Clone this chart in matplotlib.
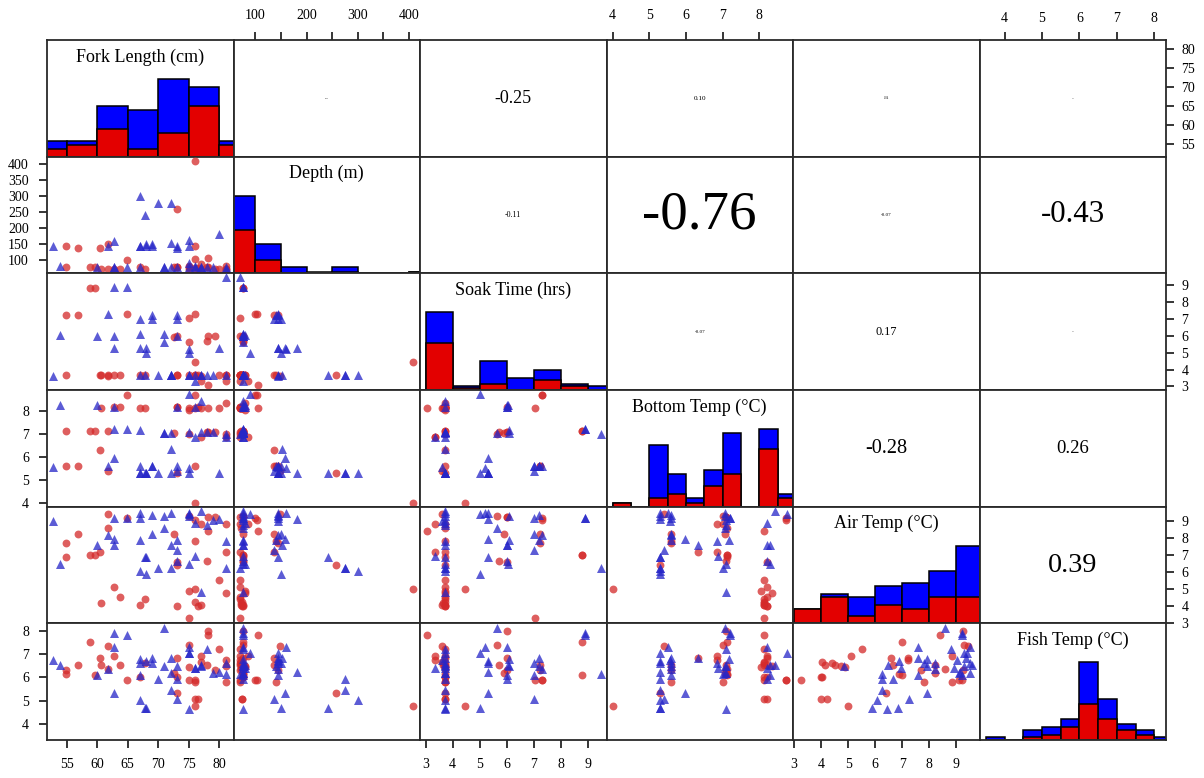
import numpy as np
import matplotlib.pyplot as plt

plt.rcParams['font.family'] = ['Liberation Serif', 'DejaVu Serif']

labels = ["Fork Length (cm)", "Depth (m)", "Soak Time (hrs)",
          "Bottom Temp (°C)", "Air Temp (°C)", "Fish Temp (°C)"]

# ---- per-fish values (red group first, then blue group) ----
red_fork = [60.6, 62.7, 63.7, 67.0, 67.9, 75.0, 76.0, 77.0, 80.0, 81.0, 73.0, 75.0,
            54.9, 56.9, 54.9, 58.8, 59.6, 60.5, 61.7, 61.7, 64.9, 72.5, 73.0, 73.0,
            75.0, 76.0, 76.0, 76.0, 77.0, 78.1, 78.1, 78.0, 79.2, 81.0, 81.0, 76.5]
red_depth = [72, 70, 70, 76, 70, 80, 74, 72, 70, 79, 76, 69,
             144, 137, 76, 76, 76, 137, 148, 72, 100, 76, 257, 76,
             76, 408, 141, 103, 85, 105, 76, 76, 70, 70, 70, 73]
red_soak = [3.65, 3.7, 3.7, 3.7, 3.7, 3.7, 3.7, 3.6, 3.7, 3.7, 3.7, 7.05,
            7.22, 7.22, 3.7, 8.8, 8.8, 3.7, 3.6, 3.7, 7.3, 5.9, 3.7, 6.0,
            5.65, 4.44, 3.7, 7.3, 3.34, 3.06, 6.0, 5.7, 6.0, 3.34, 3.7, 3.7]
red_bottom = [8.13, 8.2, 8.2, 8.13, 8.13, 8.05, 8.13, 8.13, 8.13, 8.35, 8.2, 8.13,
              5.6, 5.6, 7.13, 7.13, 7.13, 6.32, 5.4, 7.13, 8.72, 7.06, 5.3, 8.2,
              7.0, 4.0, 5.6, 8.72, 6.85, 8.13, 7.1, 7.1, 7.1, 6.85, 7.0, 8.2]
red_air = [4.15, 5.1, 4.5, 4.05, 4.4, 4.9, 4.2, 4.05, 5.5, 4.75, 4.0, 3.26,
           7.69, 8.22, 6.9, 7.0, 7.0, 7.2, 9.42, 8.57, 9.2, 8.22, 6.4, 6.6,
           9.3, 5.0, 7.8, 9.1, 8.85, 8.4, 9.24, 6.67, 9.24, 7.2, 8.85, 4.0]
red_fish = [6.55, 6.9, 6.55, 6.0, 6.6, 6.45, 5.1, 6.65, 7.2, 6.5, 6.0, 5.9,
            6.3, 6.55, 6.15, 7.5, 6.1, 6.85, 7.35, 6.35, 5.9, 6.2, 5.33, 6.85,
            7.4, 4.8, 5.8, 5.9, 6.9, 7.8, 8.0, 6.55, 6.3, 6.75, 5.8, 5.1]

blue_fork = [52.8, 53.9, 60.0, 61.7, 62.8, 62.8, 62.8, 64.9, 67.0, 67.0, 67.0, 67.0,
             67.9, 68.0, 69.0, 69.0, 70.0, 71.0, 71.0, 72.0, 72.0, 72.0, 73.0, 73.0,
             73.0, 75.0, 75.0, 75.0, 75.0, 76.0, 76.0, 77.0, 77.0, 78.0, 79.0, 80.0,
             81.0, 81.0, 68.0]
blue_depth = [144, 79, 76, 144, 157, 76, 76, 76, 300, 144, 76, 144,
              241, 144, 144, 150, 276, 76, 76, 276, 152, 76, 141, 136,
              76, 160, 144, 89, 76, 76, 80, 76, 76, 76, 76, 181,
              69, 76, 150]
blue_soak = [3.59, 6.04, 6.0, 7.3, 5.3, 8.9, 6.0, 8.9, 3.7, 5.3, 6.1, 7.0,
             3.7, 5.3, 7.2, 7.0, 3.7, 6.1, 5.65, 3.7, 3.7, 3.7, 7.2, 7.0,
             6.0, 5.2, 3.7, 5.0, 3.7, 3.34, 3.7, 3.7, 3.7, 3.7, 3.7, 5.3,
             9.47, 3.7, 5.0]
blue_bottom = [5.56, 8.28, 8.28, 5.6, 5.97, 7.2, 8.2, 7.2, 5.3, 5.3, 7.16, 5.6,
               5.3, 5.3, 5.6, 5.6, 5.3, 7.06, 7.06, 5.3, 6.33, 7.06, 5.6, 5.4,
               8.2, 5.5, 5.3, 8.76, 7.1, 6.87, 8.2, 8.43, 7.1, 7.1, 7.1, 5.3,
               7.0, 6.85, 5.3]
blue_air = [9.02, 6.47, 7.6, 8.2, 7.92, 9.2, 7.6, 9.2, 6.05, 9.5, 7.9, 9.2,
            6.86, 6.9, 9.35, 8.22, 6.25, 9.3, 8.57, 6.25, 7.6, 9.5, 7.9, 7.27,
            6.67, 9.5, 9.3, 9.4, 6.45, 6.95, 8.9, 9.6, 4.83, 8.8, 9.1, 9.15,
            6.25, 7.8, 5.9]
blue_fish = [6.75, 6.55, 6.1, 6.35, 5.33, 7.9, 7.3, 7.8, 5.05, 6.6, 6.8, 6.1,
             4.7, 6.7, 6.85, 6.6, 5.95, 6.5, 8.1, 5.45, 6.85, 6.2, 6.5, 5.1,
             5.95, 7.3, 7.05, 7.05, 4.65, 6.4, 6.4, 6.55, 6.5, 7.2, 6.2, 6.25,
             6.15, 6.6, 4.7]

# ---- histogram bin counts (all fish, and red part) ----
fork_edges = [50, 55, 60, 65, 70, 75, 80, 85]
fork_all = [4, 4, 13, 12, 20, 18, 4]
fork_red = [2, 3, 7, 2, 6, 13, 3]
depth_edges = [50, 100, 150, 200, 250, 300, 350, 400, 450]
depth_all = [47, 18, 4, 1, 4, 0, 0, 1]
depth_red = [26, 8, 0, 0, 1, 0, 0, 1]
soak_edges = [3, 4, 5, 6, 7, 8, 9, 10]
soak_all = [38, 2, 14, 6, 10, 3, 2]
soak_red = [23, 1, 3, 0, 5, 2, 0]
bottom_edges = [4.0, 4.5, 5.0, 5.5, 6.0, 6.5, 7.0, 7.5, 8.0, 8.5, 9.0]
bottom_all = [1, 0, 15, 8, 2, 9, 18, 0, 19, 3]
bottom_red = [1, 0, 2, 3, 1, 5, 8, 0, 14, 2]
air_edges = [3, 4, 5, 6, 7, 8, 9, 10]
air_all = [4, 8, 7, 10, 11, 14, 21]
air_red = [4, 7, 2, 5, 4, 7, 7]
fish_edges = [3.5, 4.0, 4.5, 5.0, 5.5, 6.0, 6.5, 7.0, 7.5, 8.0, 8.5]
fish_all = [1, 0, 4, 5, 8, 30, 16, 6, 4, 1]
fish_red = [0, 0, 1, 2, 5, 14, 8, 4, 2, 0]

# ---- correlations shown in the upper panels ----
corr_pairs = [(0, 1), (0, 2), (0, 3), (0, 4), (0, 5), (1, 2), (1, 3), (1, 4),
              (1, 5), (2, 3), (2, 4), (2, 5), (3, 4), (3, 5), (4, 5)]
corr_values = [0.03, -0.25, 0.10, 0.04, 0.02, -0.11, -0.76, -0.07,
               -0.43, -0.07, 0.17, 0.02, -0.28, 0.26, 0.39]

red_vars = [red_fork, red_depth, red_soak, red_bottom, red_air, red_fish]
blue_vars = [blue_fork, blue_depth, blue_soak, blue_bottom, blue_air, blue_fish]
hists = [(fork_edges, fork_all, fork_red), (depth_edges, depth_all, depth_red),
         (soak_edges, soak_all, soak_red), (bottom_edges, bottom_all, bottom_red),
         (air_edges, air_all, air_red), (fish_edges, fish_all, fish_red)]

limits = [(51.8, 82.3), (57, 422), (2.79, 9.69), (3.83, 8.92), (2.96, 9.86), (3.33, 8.31)]
ticks = [range(55, 81, 5), range(100, 401, 50), range(3, 10), range(4, 9),
         range(3, 10), range(4, 9)]

RED = "#e30000"
BLUE = "#0000ff"
PT_RED = "#d42a2a"
PT_BLUE = "#2626c8"

fig = plt.figure(figsize=(12.04, 7.78), dpi=100)
left, right = 47 / 1204, 1166 / 1204
top, bottom = 1 - 40 / 778, 1 - 740 / 778
w = (right - left) / 6
h = (top - bottom) / 6
n = 6

corr = dict(zip(corr_pairs, corr_values))

for i in range(n):
    for j in range(n):
        ax = fig.add_axes([left + j * w, top - (i + 1) * h, w, h])
        ax.set_xlim(limits[j])
        ax.set_ylim(limits[i])
        if i == j:
            edges, all_c, red_c = hists[i]
            edges = np.array(edges, dtype=float)
            widths = np.diff(edges)
            ax.bar(edges[:-1], all_c, width=widths, align="edge", color=BLUE,
                   edgecolor="black", linewidth=1.1)
            ax.bar(edges[:-1], red_c, width=widths, align="edge", color=RED,
                   edgecolor="black", linewidth=1.1)
            ax.set_ylim(0, 1.5 * max(all_c))
            ax.text(0.5, 0.855, labels[i], transform=ax.transAxes, ha="center",
                    va="center", fontsize=13)
        elif i > j:
            ax.scatter(red_vars[j], red_vars[i], s=32, marker="o", color=PT_RED,
                       alpha=0.75, linewidths=0, clip_on=False, zorder=3)
            ax.scatter(blue_vars[j], blue_vars[i], s=42, marker="^", color=PT_BLUE,
                       alpha=0.75, linewidths=0, clip_on=False, zorder=3)
        else:
            r = corr[(i, j)]
            ax.text(0.5, 0.5, f"{r:.2f}", transform=ax.transAxes, ha="center",
                    va="center", fontsize=max(52 * abs(r), 0.5))

        # ticks alternating around the outside of the matrix
        ax.tick_params(which="both", top=False, bottom=False, left=False, right=False,
                       labeltop=False, labelbottom=False, labelleft=False,
                       labelright=False, direction="out", length=6, width=1.1,
                       labelsize=10, pad=7)
        if i == 0 and j % 2 == 1:
            ax.set_xticks(list(ticks[j]))
            if j == 1:
                ax.set_xticklabels([str(t) if t % 100 == 0 else "" for t in ticks[j]])
            ax.tick_params(top=True, labeltop=True)
        if i == n - 1 and j % 2 == 0:
            ax.set_xticks(list(ticks[j]))
            ax.tick_params(bottom=True, labelbottom=True)
        if j == 0 and i % 2 == 1:
            ax.set_yticks(list(ticks[i]))
            ax.tick_params(left=True, labelleft=True)
        if j == n - 1 and i % 2 == 0:
            ax.set_yticks(list(ticks[i]))
            ax.tick_params(right=True, labelright=True, pad=5)
        for sp in ax.spines.values():
            sp.set_linewidth(1.3)
            sp.set_color("#2a2a2a")

fig.savefig("out.png", dpi=100)
